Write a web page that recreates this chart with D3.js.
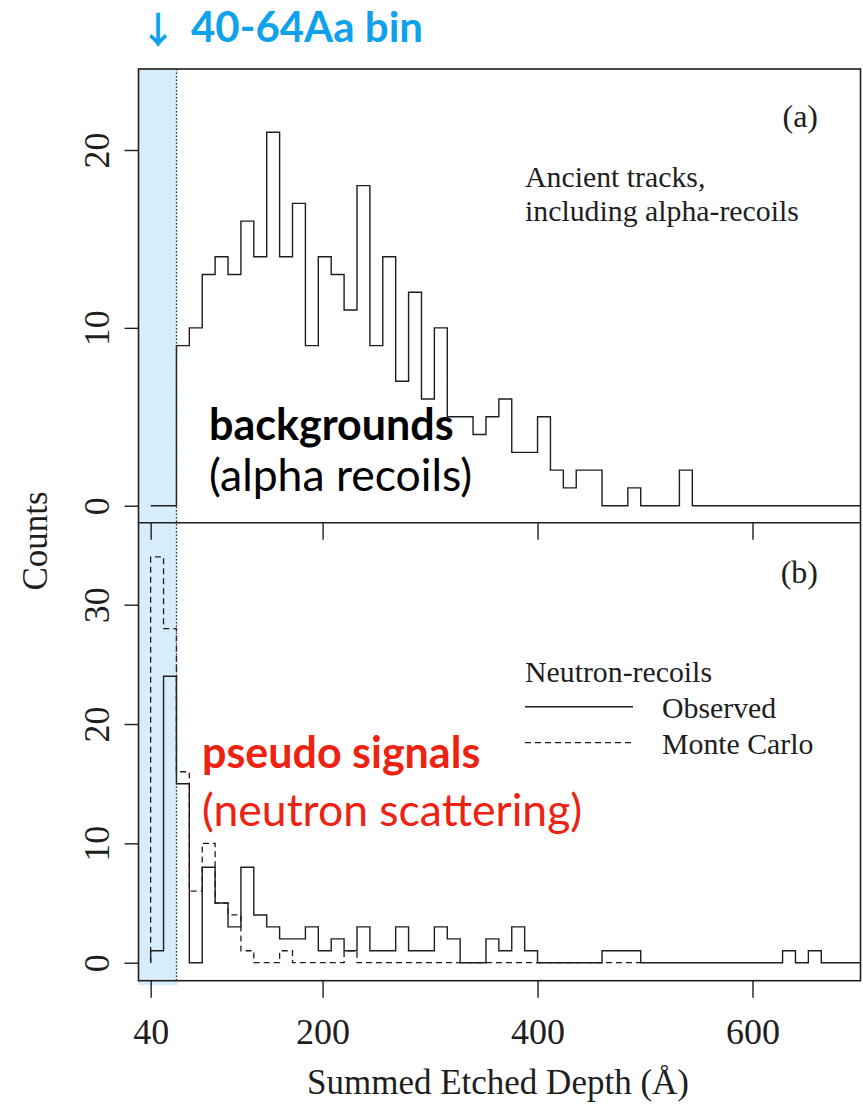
<!DOCTYPE html>
<html>
<head>
<meta charset="utf-8">
<script src="https://cdn.jsdelivr.net/npm/d3@7"></script>
<style>
  body { margin: 0; background: #fff; }
  svg { display: block; }
</style>
</head>
<body>
<svg id="chart" width="863" height="1109"></svg>
<script>
// Histogram bins: 12 Å wide, starting at 40 Å
const binStart = 40;
const binWidth = 12;

// (a) ancient tracks, including alpha-recoils
const ancientCounts = [
  0, 0, 9, 10, 13, 14, 13, 16, 14, 21, 14, 17, 9, 14, 13, 11, 18, 9, 14, 7, 12, 6, 10,
  5, 5, 4, 5, 6, 3, 3, 5, 2, 1, 2, 2, 0, 0, 1, 0, 0, 0, 2,
  0, 0, 0, 0, 0, 0, 0, 0, 0, 0, 0, 0, 0
];

// (b) neutron-recoils, observed
const observedCounts = [
  1, 24, 15, 0, 8, 5, 3, 8, 4, 3, 2, 2, 3, 1, 2, 1, 3, 1, 1, 3, 1, 1, 3, 2, 0, 0, 2, 1, 3, 1,
  0, 0, 0, 0, 0, 1, 1, 1,
  0, 0, 0, 0, 0, 0, 0, 0, 0, 0, 0,
  1, 0, 1, 0, 0, 0
];

// (b) neutron-recoils, Monte Carlo
const monteCarloCounts = [
  34, 28, 16, 6, 10, 5, 4, 1, 0, 0, 1, 0, 0, 0, 0, 1,
  0, 0, 0, 0, 0, 0, 0, 0, 0, 0, 0, 0, 0, 0, 0, 0, 0, 0, 0, 0, 0, 0
];

const xTicks = [40, 200, 400, 600];
const yTicksA = [0, 10, 20];
const yTicksB = [0, 10, 20, 30];
const highlightBin = [40, 64];

const svg = d3.select("#chart");
const serif = "'Liberation Serif', 'Times New Roman', serif";
const sans = "Lato, 'Open Sans', sans-serif";
const ink = "#1e1e1e";

const plotLeft = 138.5, plotRight = 860.5;
const topA = 69, split = 522.7, bottomB = 980.7;

const x = d3.scaleLinear().domain([28.7, 700.5]).range([plotLeft, plotRight]);
const yA = d3.scaleLinear().domain([-0.956, 24.555]).range([split, topA]);
const yB = d3.scaleLinear().domain([-1.508, 36.87]).range([bottomB, split]);

// Highlighted 40-64 Å bin band
svg.append("rect")
  .attr("x", plotLeft)
  .attr("y", topA - 1)
  .attr("width", x(highlightBin[1]) + 1.5 - plotLeft)
  .attr("height", bottomB + 4.5 - (topA - 1))
  .attr("fill", "#d8edfb");

// Step outline of a histogram, starting from zero at the first edge
function stepPoints(counts) {
  const pts = [[binStart, 0]];
  counts.forEach((c, i) => pts.push([binStart + i * binWidth, c]));
  pts.push([binStart + counts.length * binWidth, counts[counts.length - 1]]);
  return pts;
}

function stepLine(yScale) {
  return d3.line()
    .x(d => x(d[0]))
    .y(d => yScale(d[1]))
    .curve(d3.curveStepAfter);
}

// Panel (a)
svg.append("path")
  .attr("d", stepLine(yA)(stepPoints(ancientCounts)))
  .attr("fill", "none")
  .attr("stroke", ink)
  .attr("stroke-width", 1.4);

// Panel (b): Monte Carlo (dashed) under observed (solid)
svg.append("path")
  .attr("d", stepLine(yB)(stepPoints(monteCarloCounts)))
  .attr("fill", "none")
  .attr("stroke", ink)
  .attr("stroke-width", 1.3)
  .attr("stroke-dasharray", "6,4");

svg.append("path")
  .attr("d", stepLine(yB)(stepPoints(observedCounts)))
  .attr("fill", "none")
  .attr("stroke", ink)
  .attr("stroke-width", 1.4);

// Dotted marker at the upper edge of the highlighted bin
svg.append("line")
  .attr("x1", x(highlightBin[1])).attr("x2", x(highlightBin[1]))
  .attr("y1", topA).attr("y2", bottomB)
  .attr("stroke", "#333")
  .attr("stroke-width", 1.2)
  .attr("stroke-dasharray", "1.5,2");

// Frames
svg.append("rect")
  .attr("x", plotLeft).attr("y", topA)
  .attr("width", plotRight - plotLeft).attr("height", bottomB - topA)
  .attr("fill", "none").attr("stroke", ink).attr("stroke-width", 1.6);
svg.append("line")
  .attr("x1", plotLeft).attr("x2", plotRight)
  .attr("y1", split).attr("y2", split)
  .attr("stroke", ink).attr("stroke-width", 1.6);

// Axes
function styleAxis(g) {
  g.select(".domain").remove();
  g.selectAll(".tick line").attr("stroke", ink).attr("stroke-width", 1.4);
  g.selectAll(".tick text")
    .attr("fill", ink)
    .style("font-family", serif)
    .style("font-size", "36px");
}

function yAxis(scale, ticks) {
  const g = svg.append("g")
    .attr("transform", `translate(${plotLeft},0)`)
    .call(d3.axisLeft(scale).tickValues(ticks).tickSize(14).tickSizeOuter(0))
    .call(styleAxis);
  g.selectAll(".tick text")
    .attr("x", 0).attr("y", 0).attr("dy", 0)
    .attr("text-anchor", "middle")
    .attr("transform", "translate(-30,0) rotate(-90)");
}
yAxis(yA, yTicksA);
yAxis(yB, yTicksB);

// Panel (a) x ticks without labels
svg.append("g")
  .attr("transform", `translate(0,${split})`)
  .call(d3.axisBottom(x).tickValues(xTicks).tickSize(17).tickSizeOuter(0).tickFormat(""))
  .call(styleAxis);

// Panel (b) x axis
svg.append("g")
  .attr("transform", `translate(0,${bottomB})`)
  .call(d3.axisBottom(x).tickValues(xTicks).tickSize(17).tickSizeOuter(0))
  .call(styleAxis)
  .selectAll(".tick text")
  .attr("y", 63).attr("dy", 0);

// Axis titles
svg.append("text")
  .attr("x", 498).attr("y", 1094)
  .attr("text-anchor", "middle")
  .style("font-family", serif).style("font-size", "35px")
  .attr("fill", ink)
  .text("Summed Etched Depth (Å)");

svg.append("text")
  .attr("transform", "translate(47,541) rotate(-90)")
  .attr("text-anchor", "middle")
  .style("font-family", serif).style("font-size", "35px")
  .attr("fill", ink)
  .text("Counts");

// Panel labels and descriptions
function serifText(t, px, py, size, anchor) {
  svg.append("text")
    .attr("x", px).attr("y", py)
    .attr("text-anchor", anchor || "start")
    .style("font-family", serif).style("font-size", size + "px")
    .attr("fill", ink)
    .text(t);
}
serifText("(a)", 818, 127, 32, "end");
serifText("Ancient tracks,", 525, 187, 29.8);
serifText("including alpha-recoils", 525, 221, 29.8);

serifText("(b)", 818, 583, 32, "end");
serifText("Neutron-recoils", 525, 682, 29.8);
serifText("Observed", 662, 718, 29.8);
serifText("Monte Carlo", 662, 754, 29.8);

svg.append("line")
  .attr("x1", 525).attr("x2", 633).attr("y1", 706.7).attr("y2", 706.7)
  .attr("stroke", ink).attr("stroke-width", 1.4);
svg.append("line")
  .attr("x1", 525).attr("x2", 633).attr("y1", 742.7).attr("y2", 742.7)
  .attr("stroke", ink).attr("stroke-width", 1.2)
  .attr("stroke-dasharray", "6,4");

// Callouts
const blue = "#0ea2ee";
const red = "#ee2211";

svg.append("text")
  .attr("x", 139.5).attr("y", 43.5)
  .attr("fill", blue)
  .style("font-family", "'Noto Sans CJK JP', 'DejaVu Sans', sans-serif")
  .style("font-weight", 700)
  .style("font-size", "37px")
  .text("↓");

svg.append("text")
  .attr("x", 191).attr("y", 42)
  .attr("fill", blue)
  .style("font-family", sans).style("font-weight", 700).style("font-size", "42px")
  .text("40-64Aa bin");

function callout(t, px, py, color, weight, size) {
  svg.append("text")
    .attr("x", px).attr("y", py)
    .attr("fill", color)
    .style("font-family", sans)
    .style("font-weight", weight)
    .style("font-size", size + "px")
    .text(t);
}
callout("backgrounds", 209, 440, "#000", 700, 43);
callout("(alpha recoils)", 209, 491, "#000", 400, 44.5);
callout("pseudo signals", 202, 768, red, 700, 43);
callout("(neutron scattering)", 202, 826, red, 400, 44.5);
</script>
</body>
</html>
